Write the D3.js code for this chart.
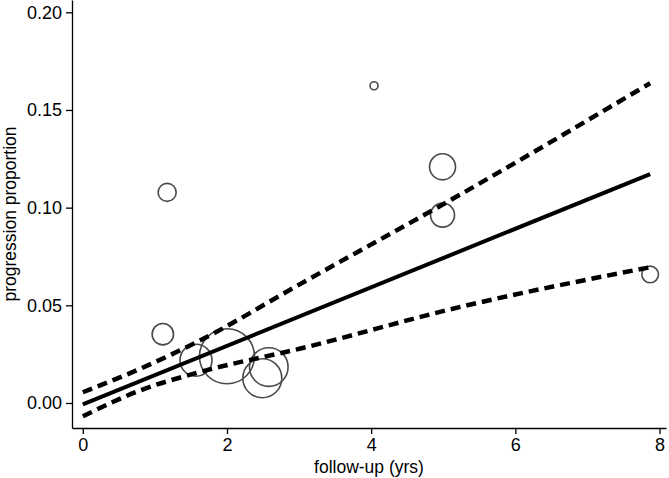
<!DOCTYPE html>
<html>
<head>
<meta charset="utf-8">
<script src="https://cdn.jsdelivr.net/npm/d3@7"></script>
<style>
  body { margin: 0; background: #fff; }
  text { font-family: "Liberation Sans", Arial, Helvetica, sans-serif; }
</style>
</head>
<body>
<svg id="chart" width="669" height="478"></svg>
<script>
// study points: follow-up years, progression proportion, study weight
var followUp = [1.11, 1.17, 1.57, 2.0, 2.58, 2.49, 4.04, 4.99, 4.99, 7.87];
var progression = [0.0352, 0.1078, 0.0219, 0.0239, 0.0184, 0.0127, 0.1624, 0.1209, 0.0962, 0.0658];
var weight = [114, 81, 256, 756, 372, 380, 16, 169, 144, 69];

// fitted line and confidence band
var fitX = [0, 7.87];
var fitY = [-0.0007, 0.1172];
var bandX = [0, 0.8, 1.63, 3.02, 5.24, 7.87];
var bandUpper = [0.0055, 0.0176, 0.0321, 0.061, 0.1068, 0.1637];
var bandLower = [-0.0068, 0.0065, 0.0159, 0.0279, 0.0492, 0.0695];

var xTicks = [0, 2, 4, 6, 8];
var yTicks = [0, 0.05, 0.10, 0.15, 0.20];

var svg = d3.select('#chart');

var x = d3.scaleLinear().domain([-0.15, 8.09]).range([72, 666]);
var y = d3.scaleLinear().domain([-0.0128, 0.2063]).range([428, 0]);
var r = d3.scaleSqrt().domain([0, 756]).range([0, 27.5]);

var points = followUp.map(function(d, i) {
    return {x: d, y: progression[i], w: weight[i]};
});

// bubbles
svg.append('g')
    .selectAll('circle')
    .data(points)
    .enter()
    .append('circle')
    .attr('cx', function(d) { return x(d.x); })
    .attr('cy', function(d) { return y(d.y); })
    .attr('r', function(d) { return r(d.w); })
    .attr('fill', 'none')
    .attr('stroke', '#4a4a4a')
    .attr('stroke-width', 1.6);

var line = d3.line()
    .x(function(d) { return x(d[0]); })
    .y(function(d) { return y(d[1]); })
    .curve(d3.curveMonotoneX);

svg.append('path')
    .attr('d', line(bandX.map(function(d, i) { return [d, bandUpper[i]]; })))
    .attr('fill', 'none')
    .attr('stroke', '#000')
    .attr('stroke-width', 4.5)
    .attr('stroke-dasharray', '10,6');

svg.append('path')
    .attr('d', line(bandX.map(function(d, i) { return [d, bandLower[i]]; })))
    .attr('fill', 'none')
    .attr('stroke', '#000')
    .attr('stroke-width', 4.5)
    .attr('stroke-dasharray', '10,6');

svg.append('path')
    .attr('d', line(fitX.map(function(d, i) { return [d, fitY[i]]; })))
    .attr('fill', 'none')
    .attr('stroke', '#000')
    .attr('stroke-width', 4);

// axes
var xAxis = d3.axisBottom(x)
    .tickValues(xTicks)
    .tickFormat(d3.format('d'))
    .tickSize(6)
    .tickSizeOuter(0)
    .tickPadding(4);

var yAxis = d3.axisLeft(y)
    .tickValues(yTicks)
    .tickFormat(d3.format('.2f'))
    .tickSize(6)
    .tickSizeOuter(0)
    .tickPadding(4);

var gx = svg.append('g')
    .attr('transform', 'translate(0,428)')
    .call(xAxis);

var gy = svg.append('g')
    .attr('transform', 'translate(72,0)')
    .call(yAxis);

[gx, gy].forEach(function(g) {
    g.selectAll('path, line').attr('stroke', '#000').attr('stroke-width', 1.3);
    g.selectAll('text').attr('font-size', 18).attr('fill', '#000')
        .style('font-family', '"Liberation Sans", Arial, sans-serif');
});

svg.append('text')
    .attr('x', 369)
    .attr('y', 473)
    .attr('text-anchor', 'middle')
    .attr('font-size', 17.5)
    .text('follow-up (yrs)');

svg.append('text')
    .attr('transform', 'translate(16,214) rotate(-90)')
    .attr('text-anchor', 'middle')
    .attr('font-size', 17.5)
    .text('progression proportion');
</script>
</body>
</html>
